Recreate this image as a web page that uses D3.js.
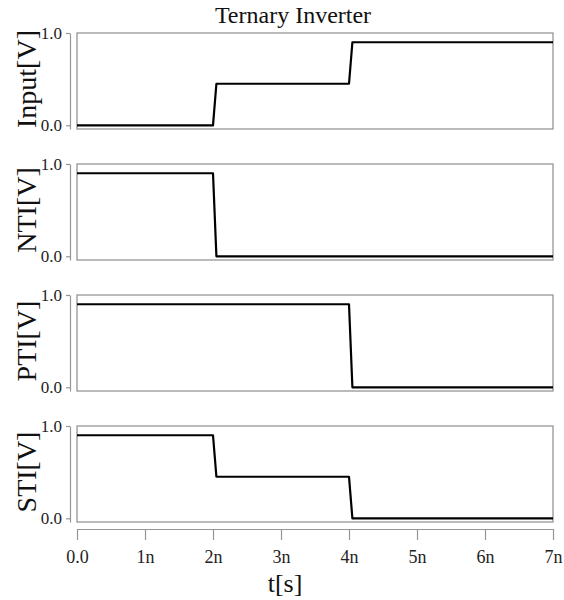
<!DOCTYPE html>
<html><head><meta charset="utf-8">
<script src="https://cdn.jsdelivr.net/npm/d3@7"></script>
<style>body{margin:0;background:#fff} svg text{font-family:"Liberation Serif","Times New Roman",serif;}</style>
</head><body><svg id="c" width="564" height="600"></svg>
<script>
const timeNs = [0, 2.0, 2.05, 4.0, 4.05, 7];
const inputV = [0, 0, 0.45, 0.45, 0.9, 0.9];
const ntiV   = [0.9, 0.9, 0, 0, 0, 0];
const ptiV   = [0.9, 0.9, 0.9, 0.9, 0, 0];
const stiV   = [0.9, 0.9, 0.45, 0.45, 0, 0];
const panelNames = ["Input[V]", "NTI[V]", "PTI[V]", "STI[V]"];
const yTicks = [0, 1];
const xTicks = [0, 1, 2, 3, 4, 5, 6, 7];
const titleText = "Ternary Inverter";
const xTitleText = "t[s]";

const series = [inputV, ntiV, ptiV, stiV];
const font = '"Liberation Serif","Times New Roman",serif';
const svg = d3.select("#c");
const x = d3.scaleLinear().domain([0, 7]).range([77, 553]);
const panelTop = [33, 164, 295, 426];
const panelH = 96;
const frameCol = "#969696";

series.forEach((vals, i) => {
  const top = panelTop[i];
  const y = d3.scaleLinear().domain([-0.04, 1]).range([top + panelH, top]);
  svg.append("rect").attr("x", x(0)).attr("y", top).attr("width", x(7) - x(0)).attr("height", panelH)
    .attr("fill", "none").attr("stroke", frameCol).attr("stroke-width", 1.3);
  const ya = svg.append("g").attr("transform", "translate(70,0)")
    .call(d3.axisLeft(y).tickValues(yTicks).tickSizeInner(4).tickSizeOuter(0).tickPadding(4)
      .tickFormat(d3.format(".1f")));
  ya.attr("font-family", null).attr("font-size", null);
  ya.select(".domain").attr("stroke", frameCol).attr("stroke-width", 1.2);
  ya.selectAll(".tick line").attr("stroke", frameCol).attr("stroke-width", 1.2);
  ya.selectAll(".tick text").style("font-family", font).style("font-size", "17px").attr("fill", "#222");
  const line = d3.line().x((d, j) => x(timeNs[j])).y(d => y(d));
  svg.append("path").datum(vals).attr("d", line).attr("fill", "none")
    .attr("stroke", "#000").attr("stroke-width", 2.2).attr("stroke-linejoin", "round");
  svg.append("text").attr("transform", `translate(36,${top + 46}) rotate(-90)`)
    .attr("text-anchor", "middle").style("font-family", font).style("font-size", "28px")
    .attr("fill", "#111").text(panelNames[i]);
});

const xa = svg.append("g").attr("transform", "translate(0,529)")
  .call(d3.axisBottom(x).tickValues(xTicks).tickSizeInner(11).tickSizeOuter(0).tickPadding(10)
    .tickFormat(d => d === 0 ? "0.0" : d + "n"));
xa.attr("font-family", null).attr("font-size", null);
xa.select(".domain").attr("stroke", frameCol).attr("stroke-width", 1.2);
xa.selectAll(".tick line").attr("stroke", frameCol).attr("stroke-width", 1.2);
xa.selectAll(".tick text").style("font-family", font).style("font-size", "18px").attr("fill", "#222");

svg.append("text").attr("x", 293).attr("y", 23).attr("text-anchor", "middle")
  .style("font-family", font).style("font-size", "24px").attr("fill", "#111").text(titleText);
svg.append("text").attr("x", 285).attr("y", 592).attr("text-anchor", "middle")
  .style("font-family", font).style("font-size", "26px").attr("fill", "#111").text(xTitleText);
</script></body></html>
